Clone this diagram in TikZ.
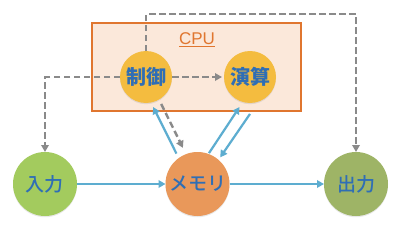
\documentclass[tikz,border=0pt]{standalone}
\usepackage{fontspec}
\setmainfont{Liberation Sans}
\newfontfamily\cjk{Noto Sans CJK JP}
\newfontfamily\cjkmed{Noto Sans CJK JP Medium}
\usetikzlibrary{arrows.meta,calc,shadows}
\definecolor{boxfill}{HTML}{FBE8DA}
\definecolor{boxline}{HTML}{E0762F}
\definecolor{yel}{HTML}{F4BC3F}
\definecolor{ingreen}{HTML}{A3CB5E}
\definecolor{memor}{HTML}{E9985A}
\definecolor{outgreen}{HTML}{9EB466}
\definecolor{txtblue}{HTML}{2F6EB5}
\definecolor{arrblue}{HTML}{5DADD0}
\definecolor{dgrey}{HTML}{8A8A8A}
\tikzset{
  unit/.style={circle, inner sep=0pt, outer sep=0pt, text=txtblue,
    drop shadow={shadow xshift=0pt, shadow yshift=-1.2pt, opacity=0.18}},
  small/.style={unit, minimum size=52pt, fill=yel,
    font=\cjk\bfseries\fontsize{20}{20}\selectfont},
  big/.style={unit, minimum size=64pt,
    font=\cjkmed\fontsize{19}{19}\selectfont},
  ctrlflow/.style={dgrey, line width=2.4pt, dash pattern=on 6.5pt off 3.5pt,
    -{Triangle[length=7pt,width=7.5pt]}},
  dataflow/.style={arrblue, line width=2.2pt, -{Triangle[length=7pt,width=7.5pt]}},
}
\begin{document}
\begin{tikzpicture}[x=1pt,y=-1pt]
\useasboundingbox[fill=white] (0,0) rectangle (400,225);
\node[draw=boxline, fill=boxfill, line width=2.2pt, minimum width=209pt,
  minimum height=88pt, inner sep=0pt] (cpu) at (196.5,67) {};
\node[text=boxline, font=\fontsize{17}{17}\selectfont] (cpulabel) at (197,40) {\underline{CPU}};
\node[small] (ctl) at (146,77) {制御};
\node[small] (alu) at (250,77) {演算};
\node[big, fill=ingreen] (inp) at (45,184) {入力};
\node[big, fill=memor] (mem) at (197.5,184) {メモリ};
\node[big, fill=outgreen] (out) at (356,184) {出力};
% control flow
\draw[ctrlflow] (ctl.west) -| (inp.north);
\draw[ctrlflow] (ctl.north) -- ++(0,-37) -| (out.north);
\draw[ctrlflow, shorten >=2pt] (ctl.east) -- (alu.west);
\draw[ctrlflow, shorten <=5pt, shorten >=7pt] (ctl.300) -- (mem.111);
% data flow
\draw[dataflow] (inp.east) -- (mem.west);
\draw[dataflow] (mem.east) -- (out.west);
\draw[dataflow, shorten <=5pt, shorten >=5pt] (mem.126) -- (ctl.281);
\draw[dataflow, shorten <=1pt, shorten >=6pt] (mem.70) -- (alu.254);
\draw[dataflow, shorten <=15pt, shorten >=3pt] (alu.289) -- (mem.49);
\end{tikzpicture}
\end{document}
